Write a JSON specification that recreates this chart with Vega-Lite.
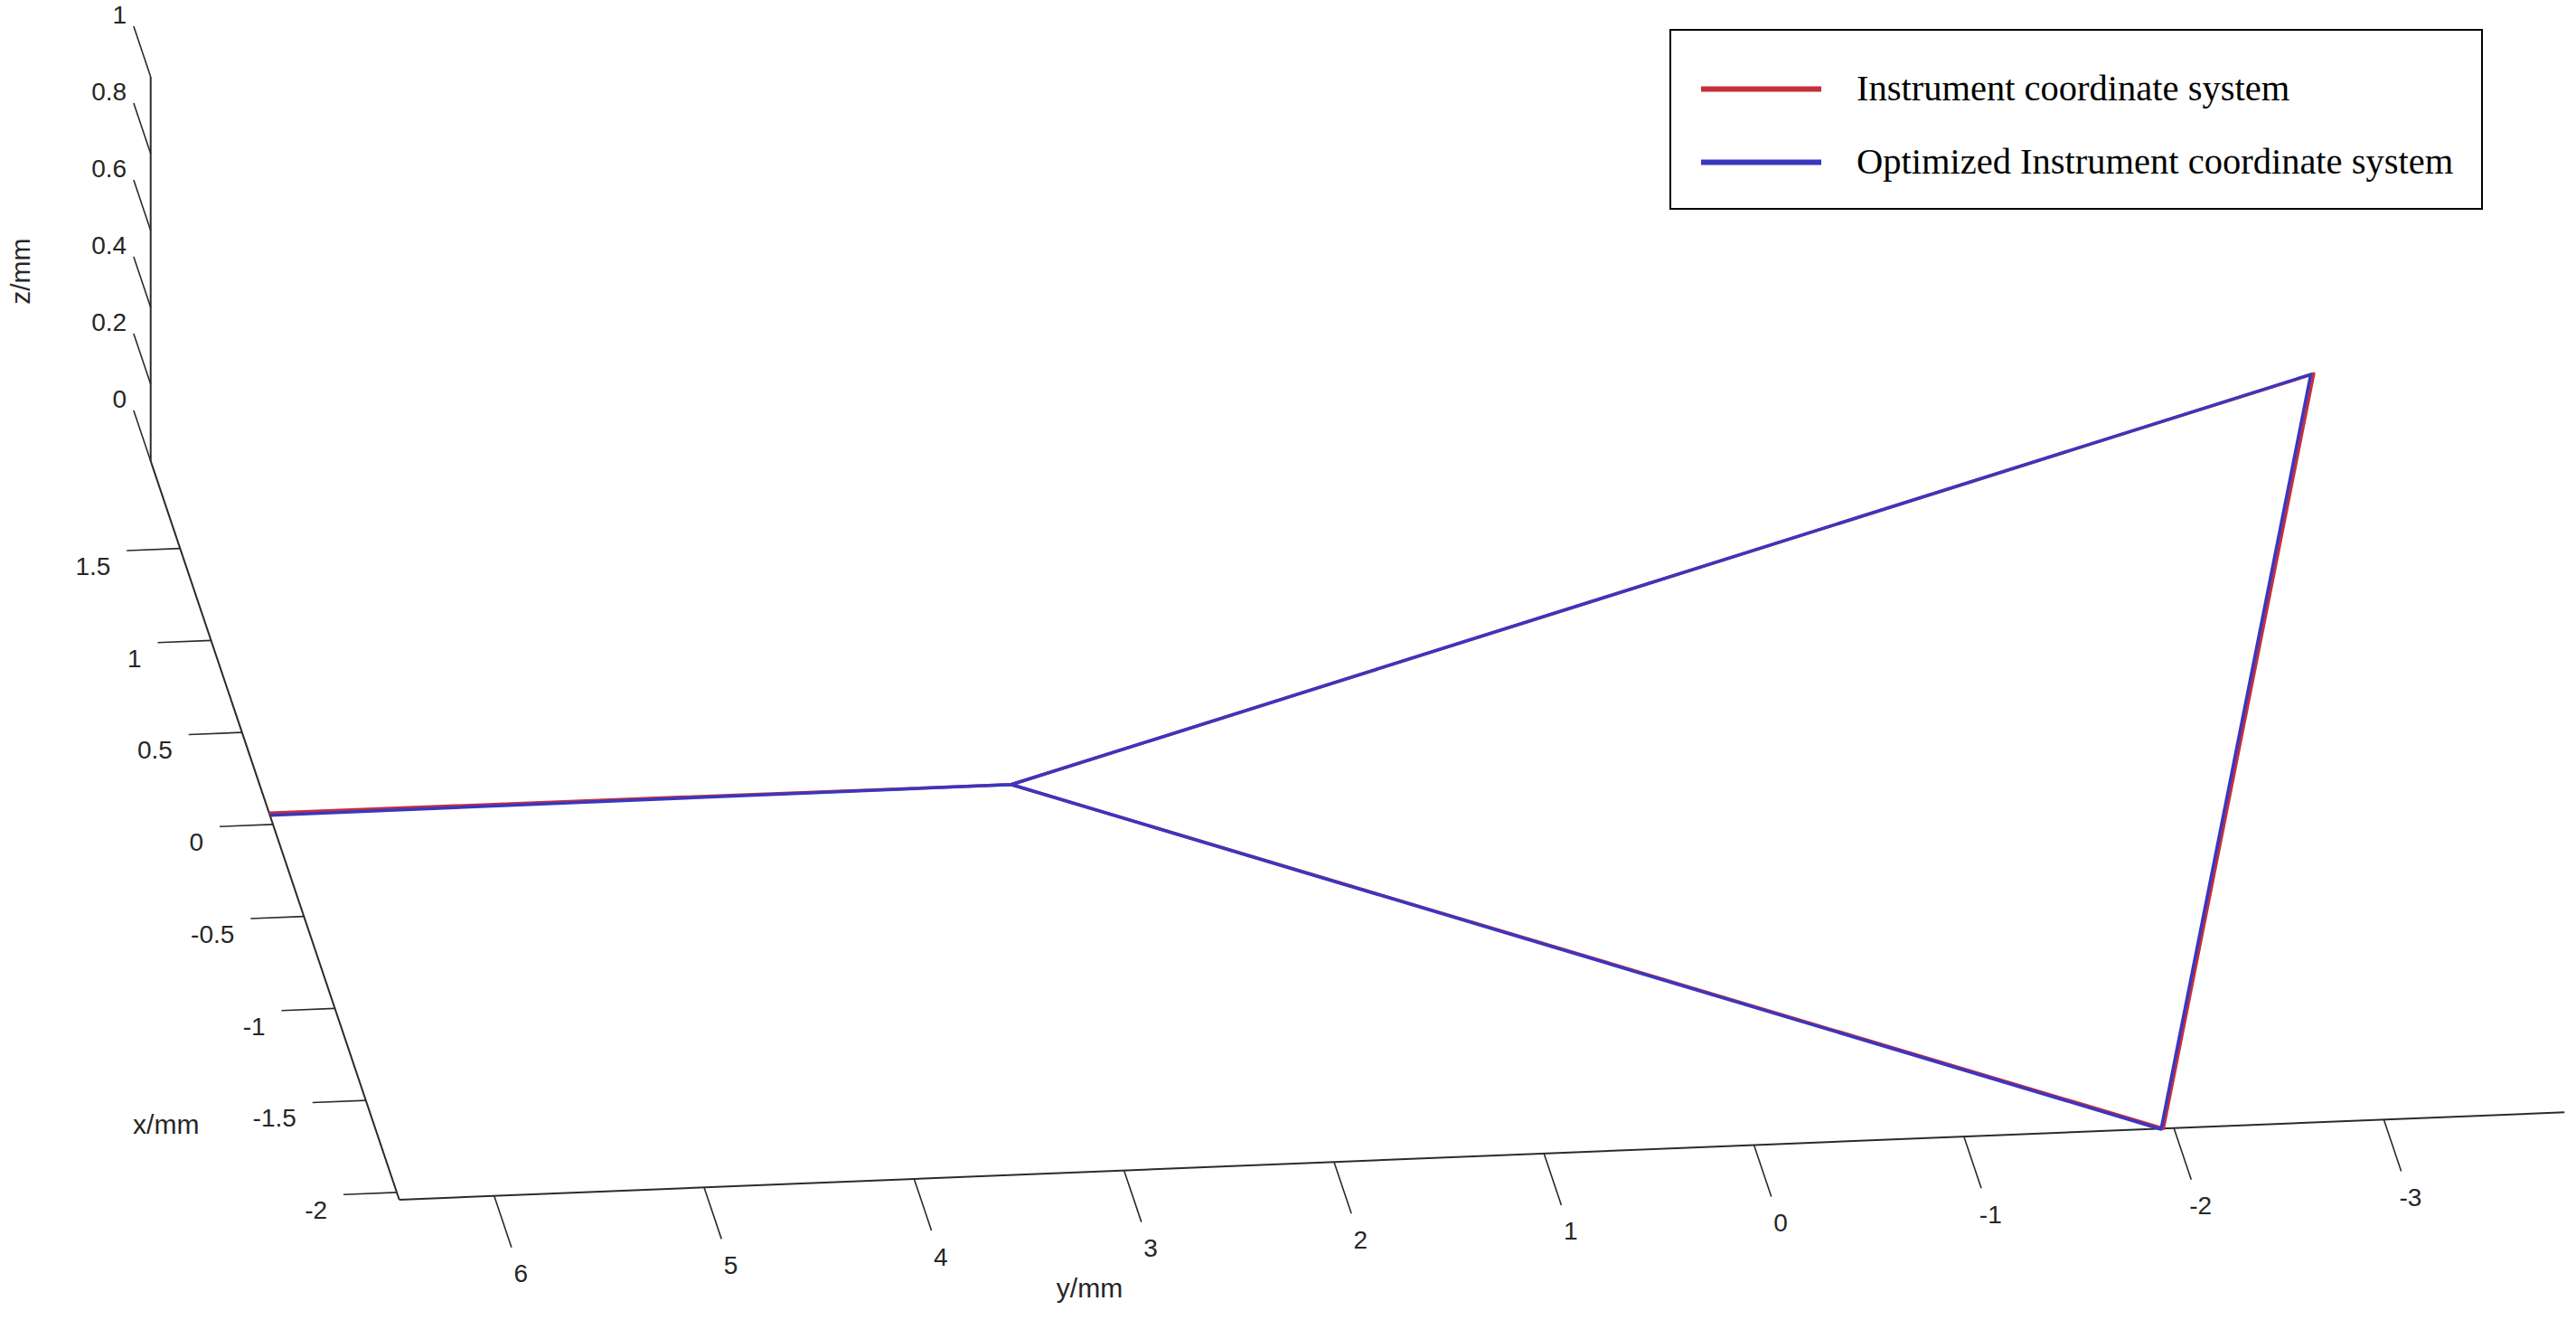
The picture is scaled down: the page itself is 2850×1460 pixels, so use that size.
{
  "$schema": "https://vega.github.io/schema/vega-lite/v6.json",
  "width": 2850,
  "height": 1460,
  "padding": 0,
  "autosize": {"type": "none"},
  "background": "white",
  "config": {
    "view": {"stroke": null},
    "legend": {"strokeWidth": 2}
  },
  "datasets": {
    "traces": [
      {"series": "Instrument coordinate system", "order": 0, "x": 0.062, "y": 6.452, "z": 0},
      {"series": "Instrument coordinate system", "order": 1, "x": 0.054, "y": 2.92, "z": 0},
      {"series": "Instrument coordinate system", "order": 2, "x": 1.975, "y": -3.85, "z": 0},
      {"series": "Instrument coordinate system", "order": 3, "x": -2.04, "y": -1.95, "z": 0},
      {"series": "Instrument coordinate system", "order": 4, "x": 0.054, "y": 2.92, "z": 0},
      {"series": "Optimized Instrument coordinate system", "order": 0, "x": 0.05, "y": 6.45, "z": 0},
      {"series": "Optimized Instrument coordinate system", "order": 1, "x": 0.054, "y": 2.92, "z": 0},
      {"series": "Optimized Instrument coordinate system", "order": 2, "x": 1.972, "y": -3.835, "z": 0},
      {"series": "Optimized Instrument coordinate system", "order": 3, "x": -2.043, "y": -1.938, "z": 0},
      {"series": "Optimized Instrument coordinate system", "order": 4, "x": 0.054, "y": 2.92, "z": 0}
    ],
    "axislines": [
      {"axis": "x", "x": -2.04, "y": 6.452, "z": 0, "x2": 1.975, "y2": 6.452, "z2": 0},
      {"axis": "y", "x": -2.04, "y": 6.452, "z": 0, "x2": -2.04, "y2": -3.86, "z2": 0},
      {"axis": "z", "x": 1.975, "y": 6.452, "z": 0, "x2": 1.975, "y2": 6.452, "z2": 1}
    ],
    "ticks": [
      {"axis": "x", "v": -2, "label": "-2"},
      {"axis": "x", "v": -1.5, "label": "-1.5"},
      {"axis": "x", "v": -1, "label": "-1"},
      {"axis": "x", "v": -0.5, "label": "-0.5"},
      {"axis": "x", "v": 0, "label": "0"},
      {"axis": "x", "v": 0.5, "label": "0.5"},
      {"axis": "x", "v": 1, "label": "1"},
      {"axis": "x", "v": 1.5, "label": "1.5"},
      {"axis": "y", "v": -3, "label": "-3"},
      {"axis": "y", "v": -2, "label": "-2"},
      {"axis": "y", "v": -1, "label": "-1"},
      {"axis": "y", "v": 0, "label": "0"},
      {"axis": "y", "v": 1, "label": "1"},
      {"axis": "y", "v": 2, "label": "2"},
      {"axis": "y", "v": 3, "label": "3"},
      {"axis": "y", "v": 4, "label": "4"},
      {"axis": "y", "v": 5, "label": "5"},
      {"axis": "y", "v": 6, "label": "6"},
      {"axis": "z", "v": 0, "label": "0"},
      {"axis": "z", "v": 0.2, "label": "0.2"},
      {"axis": "z", "v": 0.4, "label": "0.4"},
      {"axis": "z", "v": 0.6, "label": "0.6"},
      {"axis": "z", "v": 0.8, "label": "0.8"},
      {"axis": "z", "v": 1, "label": "1"}
    ],
    "titles": [
      {"title": "x/mm", "x": -1.59, "y": 7.43, "z": 0},
      {"title": "y/mm", "x": -2.67, "y": 3.35, "z": 0},
      {"title": "z/mm", "x": 1.99, "y": 7.06, "z": 0.5}
    ]
  },
  "layer": [
    {
      "data": {"name": "axislines"},
      "transform": [
        {"calculate": "1800.8 - 68.5*datum.x - 232.3*datum.y", "as": "px"},
        {"calculate": "851.4 - 203.5*datum.x + 9.37*datum.y - 425*datum.z", "as": "py"},
        {"calculate": "1800.8 - 68.5*datum.x2 - 232.3*datum.y2", "as": "px2"},
        {"calculate": "851.4 - 203.5*datum.x2 + 9.37*datum.y2 - 425*datum.z2", "as": "py2"}
      ],
      "mark": {"type": "rule", "color": "#2b2b2b", "strokeWidth": 2},
      "encoding": {
        "x": {"field": "px", "type": "quantitative", "scale": {"domain": [0, 2850], "nice": false, "zero": false}, "axis": null},
        "y": {"field": "py", "type": "quantitative", "scale": {"domain": [1460, 0], "nice": false, "zero": false}, "axis": null},
        "x2": {"field": "px2"},
        "y2": {"field": "py2"}
      }
    },
    {
      "data": {"name": "ticks"},
      "transform": [
        {"calculate": "datum.axis=='x' ? datum.v : (datum.axis=='y' ? -2.04 : 1.975)", "as": "tx0"},
        {"calculate": "datum.axis=='y' ? datum.v : 6.452", "as": "ty0"},
        {"calculate": "datum.axis=='z' ? datum.v : 0", "as": "tz0"},
        {"calculate": "datum.axis=='y' ? -2.32 : (datum.axis=='z' ? 2.25 : datum.v)", "as": "tx1"},
        {"calculate": "datum.axis=='x' ? 6.706 : datum.ty0", "as": "ty1"},
        {"calculate": "1800.8 - 68.5*datum.tx0 - 232.3*datum.ty0", "as": "px"},
        {"calculate": "851.4 - 203.5*datum.tx0 + 9.37*datum.ty0 - 425*datum.tz0", "as": "py"},
        {"calculate": "1800.8 - 68.5*datum.tx1 - 232.3*datum.ty1", "as": "px2"},
        {"calculate": "851.4 - 203.5*datum.tx1 + 9.37*datum.ty1 - 425*datum.tz0", "as": "py2"}
      ],
      "mark": {"type": "rule", "color": "#2b2b2b", "strokeWidth": 1.6},
      "encoding": {
        "x": {"field": "px", "type": "quantitative", "scale": {"domain": [0, 2850], "nice": false, "zero": false}, "axis": null},
        "y": {"field": "py", "type": "quantitative", "scale": {"domain": [1460, 0], "nice": false, "zero": false}, "axis": null},
        "x2": {"field": "px2"},
        "y2": {"field": "py2"}
      }
    },
    {
      "data": {"name": "ticks"},
      "transform": [
        {"filter": "datum.axis=='x'"},
        {"calculate": "1800.8 - 68.5*datum.v - 232.3*6.796", "as": "px"},
        {"calculate": "851.4 - 203.5*datum.v + 9.37*6.796", "as": "py"}
      ],
      "mark": {"type": "text", "align": "right", "baseline": "middle", "dy": 18, "dx": 3, "font": "Liberation Sans", "fontSize": 28, "color": "#262626"},
      "encoding": {
        "x": {"field": "px", "type": "quantitative", "scale": {"domain": [0, 2850], "nice": false, "zero": false}, "axis": null},
        "y": {"field": "py", "type": "quantitative", "scale": {"domain": [1460, 0], "nice": false, "zero": false}, "axis": null},
        "text": {"field": "label"}
      }
    },
    {
      "data": {"name": "ticks"},
      "transform": [
        {"filter": "datum.axis=='y'"},
        {"calculate": "1800.8 - 68.5*(-2.47) - 232.3*datum.v", "as": "px"},
        {"calculate": "851.4 - 203.5*(-2.47) + 9.37*datum.v", "as": "py"}
      ],
      "mark": {"type": "text", "align": "center", "baseline": "middle", "font": "Liberation Sans", "fontSize": 28, "color": "#262626"},
      "encoding": {
        "x": {"field": "px", "type": "quantitative", "scale": {"domain": [0, 2850], "nice": false, "zero": false}, "axis": null},
        "y": {"field": "py", "type": "quantitative", "scale": {"domain": [1460, 0], "nice": false, "zero": false}, "axis": null},
        "text": {"field": "label"}
      }
    },
    {
      "data": {"name": "ticks"},
      "transform": [
        {"filter": "datum.axis=='z'"},
        {"calculate": "1800.8 - 68.5*2.305 - 232.3*6.452", "as": "px"},
        {"calculate": "851.4 - 203.5*2.305 + 9.37*6.452 - 425*datum.v", "as": "py"}
      ],
      "mark": {"type": "text", "align": "right", "baseline": "middle", "dx": -4, "font": "Liberation Sans", "fontSize": 28, "color": "#262626"},
      "encoding": {
        "x": {"field": "px", "type": "quantitative", "scale": {"domain": [0, 2850], "nice": false, "zero": false}, "axis": null},
        "y": {"field": "py", "type": "quantitative", "scale": {"domain": [1460, 0], "nice": false, "zero": false}, "axis": null},
        "text": {"field": "label"}
      }
    },
    {
      "data": {"name": "titles"},
      "transform": [
        {"filter": "datum.title != 'z/mm'"},
        {"calculate": "1800.8 - 68.5*datum.x - 232.3*datum.y", "as": "px"},
        {"calculate": "851.4 - 203.5*datum.x + 9.37*datum.y - 425*datum.z", "as": "py"}
      ],
      "mark": {"type": "text", "align": "center", "baseline": "middle", "font": "Liberation Sans", "fontSize": 30, "color": "#262626"},
      "encoding": {
        "x": {"field": "px", "type": "quantitative", "scale": {"domain": [0, 2850], "nice": false, "zero": false}, "axis": null},
        "y": {"field": "py", "type": "quantitative", "scale": {"domain": [1460, 0], "nice": false, "zero": false}, "axis": null},
        "text": {"field": "title"}
      }
    },
    {
      "data": {"name": "titles"},
      "transform": [
        {"filter": "datum.title == 'z/mm'"},
        {"calculate": "1800.8 - 68.5*datum.x - 232.3*datum.y", "as": "px"},
        {"calculate": "851.4 - 203.5*datum.x + 9.37*datum.y - 425*datum.z", "as": "py"}
      ],
      "mark": {"type": "text", "align": "center", "baseline": "middle", "angle": 270, "font": "Liberation Sans", "fontSize": 30, "color": "#262626"},
      "encoding": {
        "x": {"field": "px", "type": "quantitative", "scale": {"domain": [0, 2850], "nice": false, "zero": false}, "axis": null},
        "y": {"field": "py", "type": "quantitative", "scale": {"domain": [1460, 0], "nice": false, "zero": false}, "axis": null},
        "text": {"field": "title"}
      }
    },
    {
      "data": {"name": "traces"},
      "transform": [
        {"calculate": "1800.8 - 68.5*datum.x - 232.3*datum.y", "as": "px"},
        {"calculate": "851.4 - 203.5*datum.x + 9.37*datum.y - 425*datum.z", "as": "py"}
      ],
      "mark": {"type": "line", "strokeWidth": 3.5, "strokeJoin": "round"},
      "encoding": {
        "x": {"field": "px", "type": "quantitative", "scale": {"domain": [0, 2850], "nice": false, "zero": false}, "axis": null},
        "y": {"field": "py", "type": "quantitative", "scale": {"domain": [1460, 0], "nice": false, "zero": false}, "axis": null},
        "order": {"field": "order", "type": "quantitative"},
        "color": {
          "field": "series",
          "type": "nominal",
          "scale": {"domain": ["Instrument coordinate system", "Optimized Instrument coordinate system"], "range": ["#c4303c", "#3b36c0"]},
          "legend": {
            "orient": "none",
            "legendX": 1848,
            "legendY": 33,
            "title": null,
            "symbolType": "M-1,0H3.222",
            "symbolSize": 3969,
            "symbolStrokeWidth": 6,
            "labelFont": "Liberation Serif",
            "labelFontSize": 40.5,
            "labelColor": "black",
            "labelOffset": 106,
            "labelLimit": 0,
            "padding": 31,
            "rowPadding": 26,
            "strokeColor": "black",
            "fillColor": "white"
          }
        }
      }
    }
  ]
}
